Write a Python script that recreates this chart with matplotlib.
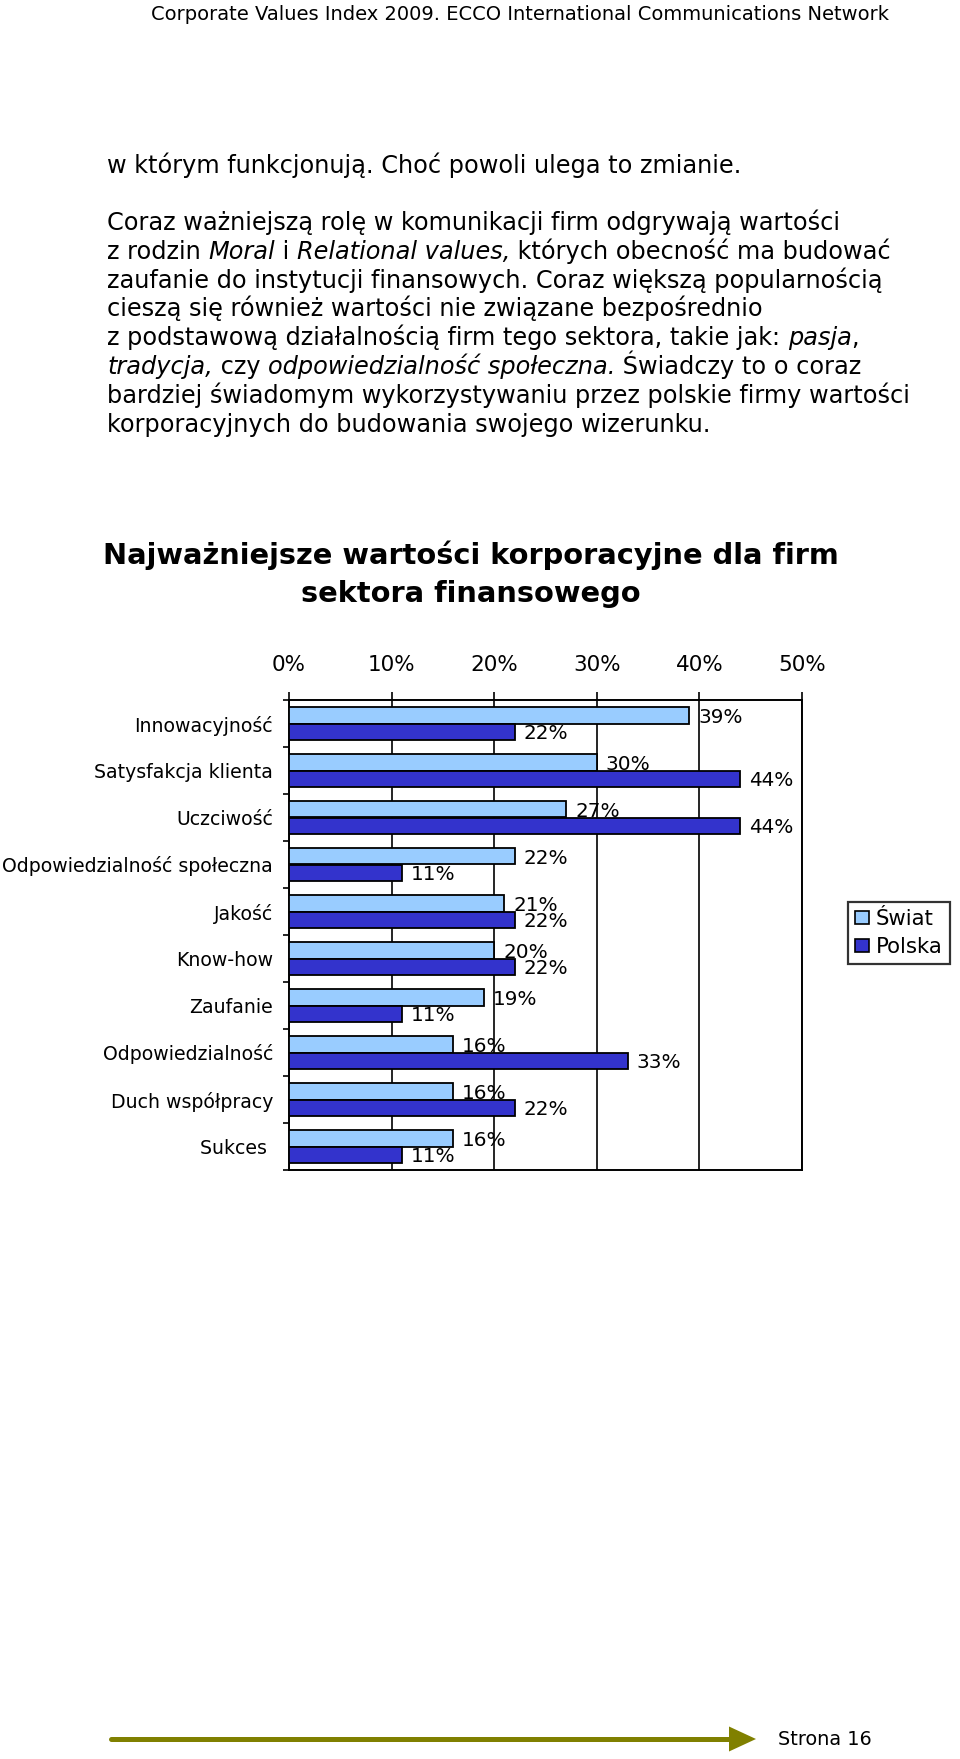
import matplotlib
matplotlib.use("Agg")
import numpy as np
import matplotlib.pyplot as plt
from matplotlib.patches import Patch, Polygon
from matplotlib.lines import Line2D

plt.rcParams['font.family'] = ['DejaVu Sans']

# ---------------- data ----------------
categories = ["Innowacyjność", "Satysfakcja klienta", "Uczciwość",
              "Odpowiedzialność społeczna", "Jakość", "Know-how", "Zaufanie",
              "Odpowiedzialność", "Duch współpracy", "Sukces "]
swiat = [39, 30, 27, 22, 21, 20, 19, 16, 16, 16]
polska = [22, 44, 44, 11, 22, 22, 11, 33, 22, 11]
series_names = ["Świat", "Polska"]
x_ticks = [0, 10, 20, 30, 40, 50]
x_tick_labels = ["0%", "10%", "20%", "30%", "40%", "50%"]

header = "Corporate Values Index 2009. ECCO International Communications Network"
title_lines = ["Najważniejsze wartości korporacyjne dla firm", "sektora finansowego"]
paragraph = [
    [("w którym funkcjonują. Choć powoli ulega to zmianie.", "normal")],
    [("Coraz ważniejszą rolę w komunikacji firm odgrywają wartości", "normal")],
    [("z rodzin ", "normal"), ("Moral", "italic"), (" i ", "normal"),
     ("Relational values,", "italic"), (" których obecność ma budować", "normal")],
    [("zaufanie do instytucji finansowych. Coraz większą popularnością", "normal")],
    [("cieszą się również wartości nie związane bezpośrednio", "normal")],
    [("z podstawową działalnością firm tego sektora, takie jak: ", "normal"),
     ("pasja", "italic"), (",", "normal")],
    [("tradycja,", "italic"), (" czy ", "normal"),
     ("odpowiedzialność społeczna.", "italic"), (" Świadczy to o coraz", "normal")],
    [("bardziej świadomym wykorzystywaniu przez polskie firmy wartości", "normal")],
    [("korporacyjnych do budowania swojego wizerunku.", "normal")],
]
footer = "Strona 16"

# ---------------- figure ----------------
W, H = 960, 1759
fig = plt.figure(figsize=(W / 100, H / 100), dpi=100)
renderer = fig.canvas.get_renderer()


def fx(px):
    return px / W


def fy(py):
    return 1 - py / H


def text_width(s, **kw):
    t = fig.text(0, 0, s, **kw)
    w = t.get_window_extent(renderer).width
    t.remove()
    return w


def adv_width(s, **kw):
    # advance width incl. leading/trailing spaces
    return text_width(s + "x", **kw) - text_width("x", **kw)


def fit_size(s, target, base=10.0, **kw):
    return base * target / text_width(s, fontsize=base, **kw)


# header
hs = fit_size(header, 738)
fig.text(fx(520), fy(19.5), header, ha="center", va="baseline", fontsize=hs, color="black")

# paragraph
ps = fit_size(paragraph[7][0][0], 806)
baselines = [173, 230, 258.8, 287.6, 316.4, 345.2, 374, 402.8, 431.6]
for line, yb in zip(paragraph, baselines):
    x = 107
    for seg, style in line:
        fig.text(fx(x), fy(yb), seg, ha="left", va="baseline", fontsize=ps, style=style)
        x += adv_width(seg, fontsize=ps, style=style)

# title
ts = fit_size(title_lines[0], 739, fontweight="bold")
fig.text(fx(471), fy(564), title_lines[0], ha="center", va="baseline", fontsize=ts, fontweight="bold")
fig.text(fx(471), fy(601.5), title_lines[1], ha="center", va="baseline", fontsize=ts, fontweight="bold")

# ---------------- chart ----------------
c_swiat = "#99CCFF"
c_polska = "#3333CC"
ax = fig.add_axes([fx(289), fy(1170), 513 / W, 470 / H])
n = len(categories)
idx = np.arange(n)
bh = 0.355
y_sw = idx + 0.5 - bh / 2
y_pl = idx + 0.5 + bh / 2
ax.barh(y_sw, swiat, height=bh, color=c_swiat, edgecolor="black", linewidth=1.3, zorder=3)
ax.barh(y_pl, polska, height=bh, color=c_polska, edgecolor="black", linewidth=1.3, zorder=3)

for v, y in zip(swiat, y_sw):
    ax.annotate(f"{v}%", xy=(v, y), xytext=(6.5, 0), textcoords="offset points",
                ha="left", va="center_baseline", fontsize=14.4, zorder=4)
for v, y in zip(polska, y_pl):
    ax.annotate(f"{v}%", xy=(v, y), xytext=(6.5, 0), textcoords="offset points",
                ha="left", va="center_baseline", fontsize=14.4, zorder=4)

ax.set_xlim(0, 50)
ax.set_ylim(n, 0)
ax.xaxis.tick_top()
ax.set_xticks(x_ticks)
ax.set_xticklabels(x_tick_labels)
ax.tick_params(axis="x", length=5.8, width=1.2, pad=12, labelsize=15.5, direction="out")
ax.grid(axis="x", color="black", linewidth=1.2, zorder=1)
ax.set_axisbelow(True)

cat_size = fit_size(categories[3], 270)
ax.set_yticks(np.arange(n + 1))
ax.set_yticklabels([])
ax.tick_params(axis="y", which="major", length=4.3, width=1.2, direction="out")
ax.set_yticks(idx + 0.5, minor=True)
ax.set_yticklabels(categories, minor=True)
ax.tick_params(axis="y", which="minor", length=0, pad=11.5, labelsize=cat_size)
for sp in ax.spines.values():
    sp.set_linewidth(1.4)
    sp.set_color("black")

handles = [Patch(facecolor=c_swiat, edgecolor="black", linewidth=1.2, label=series_names[0]),
           Patch(facecolor=c_polska, edgecolor="black", linewidth=1.2, label=series_names[1])]
leg = fig.legend(handles=handles, loc="upper left", bbox_to_anchor=(fx(848), fy(901.7)),
                 frameon=True, fancybox=False, edgecolor="black", fontsize=15.3,
                 handlelength=0.66, handleheight=0.56, handletextpad=0.3,
                 borderpad=0.35, labelspacing=0.35, borderaxespad=0)
leg.get_frame().set_linewidth(1.6)

# ---------------- footer ----------------
olive = "#808000"
fig.add_artist(Line2D([fx(111), fx(732)], [fy(1739), fy(1739)], lw=3.6, color=olive,
                      solid_capstyle="round", transform=fig.transFigure))
fig.add_artist(Polygon([[fx(729), fy(1726.5)], [fx(756), fy(1739)], [fx(729), fy(1751.5)]],
                       closed=True, facecolor=olive, edgecolor="none", transform=fig.transFigure))
fs = fit_size(footer, 94)
fig.text(fx(777.5), fy(1745), footer, ha="left", va="baseline", fontsize=fs)

fig.savefig("out.png", dpi=100)
